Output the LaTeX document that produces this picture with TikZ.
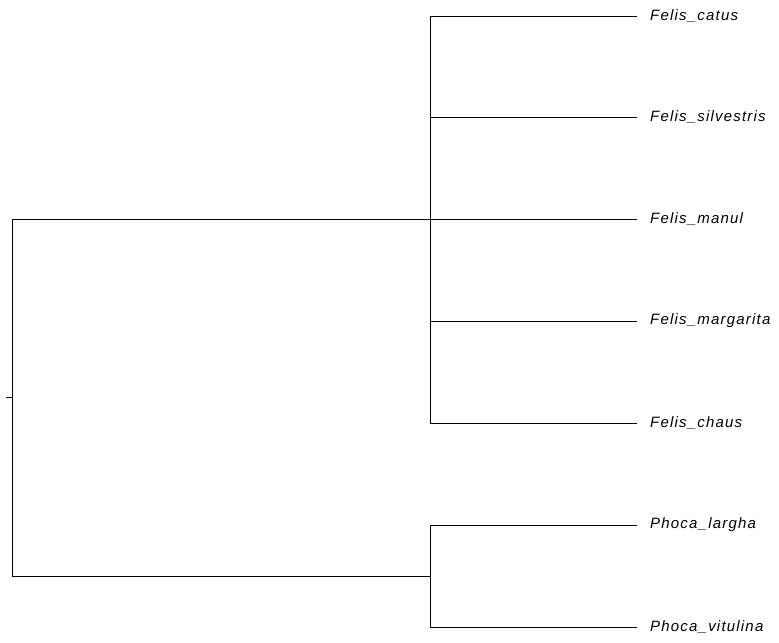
\documentclass[tikz,border=0pt]{standalone}
\usepackage{fontspec}
\newfontfamily\leaffont[LetterSpace=8]{Liberation Sans}
\begin{document}
\begin{tikzpicture}[
  x=1bp,
  y=-1bp,
  branch/.style={black, line width=0.9bp},
  leaf/.style={anchor=west, inner sep=0pt, font=\leaffont\itshape\fontsize{15bp}{18bp}\selectfont},
]
  \useasboundingbox (0,0) rectangle (779,643);

  % internal nodes
  \coordinate (root) at (6,397.5);
  \coordinate (base) at (12,397.5);
  \coordinate (felis) at (430,219.5);
  \coordinate (phoca) at (430,576);

  % tips and labels
  \foreach \y/\id/\label in {16/fca/Felis\_catus,117/fsi/Felis\_silvestris,219/fma/Felis\_manul,321/fmr/Felis\_margarita,423/fch/Felis\_chaus,525/pla/Phoca\_largha,627/pvi/Phoca\_vitulina} {
    \coordinate (tip-\id) at (637,\y);
    \node[leaf] (lab-\id) at (650,\y) {\label};
  }

  % root and its two clades
  \draw[branch] (root) -- (base);
  \draw[branch] (felis) -- (base |- felis) -- (base |- phoca) -- (phoca);

  % Felis
  \draw[branch] (felis |- tip-fca) -- (felis |- tip-fch);
  \foreach \id in {fca,fsi,fma,fmr,fch}
    \draw[branch] (felis |- tip-\id) -- (tip-\id);

  % Phoca
  \draw[branch] (phoca |- tip-pla) -- (phoca |- tip-pvi);
  \foreach \id in {pla,pvi}
    \draw[branch] (phoca |- tip-\id) -- (tip-\id);
\end{tikzpicture}
\end{document}
